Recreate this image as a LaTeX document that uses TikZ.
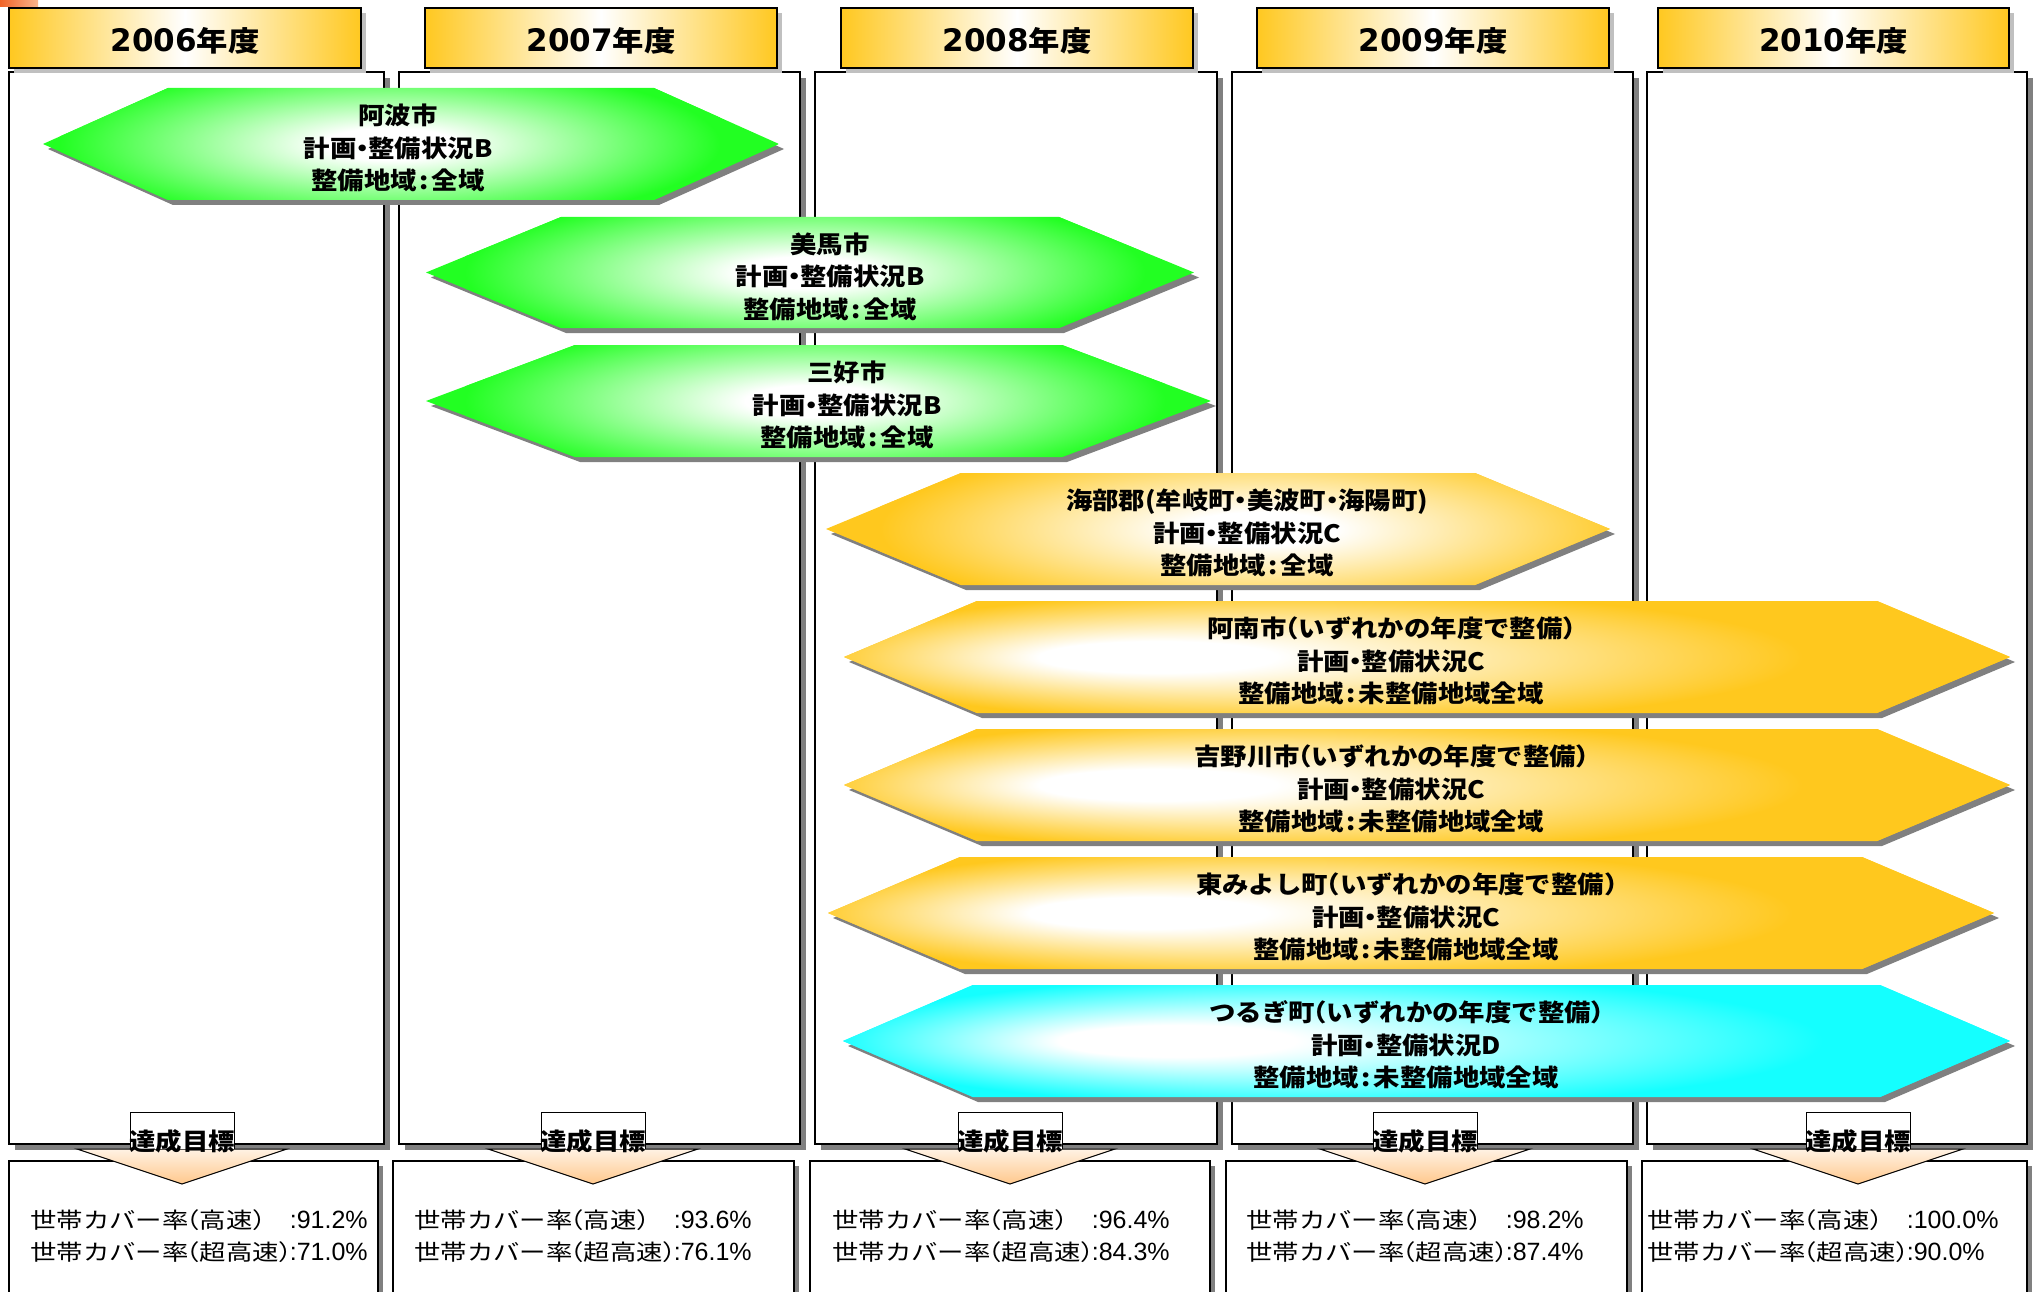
\documentclass[tikz,border=0pt]{standalone}
\usepackage{fontspec}
\setmainfont{Noto Sans CJK JP}
\newfontfamily\widefont{Noto Sans CJK JP}[FakeStretch=1.1]
\newfontfamily\hdrfont{Noto Sans CJK JP}[FakeStretch=1.12]
\newfontfamily\hdrdigits{DejaVu Sans}
\newfontfamily\ratefont{Noto Sans CJK JP}[FakeStretch=1.2]
\newfontfamily\numfont{Liberation Sans}
\definecolor{hexG}{RGB}{34,255,34}
\definecolor{hexY}{RGB}{255,200,30}
\definecolor{hexC}{RGB}{20,255,255}
\colorlet{hexYa}{hexY}
\colorlet{hexCa}{hexC}
\definecolor{hdrY}{RGB}{255,200,32}
\definecolor{shadowdark}{RGB}{128,128,128}
\definecolor{hdrshadow}{RGB}{192,192,192}
\definecolor{triTop}{RGB}{255,242,228}
\definecolor{triBot}{RGB}{255,200,140}
\definecolor{cornerA}{RGB}{240,100,40}
\definecolor{cornerB}{RGB}{250,180,140}
\pgfdeclareradialshading{hexG}{\pgfpointorigin}{color(0bp)=(white); color(5bp)=(white); color(25bp)=(hexG); color(50bp)=(hexG)}
\pgfdeclareradialshading{hexY}{\pgfpointorigin}{color(0bp)=(white); color(5bp)=(white); color(25bp)=(hexY); color(50bp)=(hexY)}
\pgfdeclareradialshading{hexYa}{\pgfpoint{-20bp}{0bp}}{color(0bp)=(white); color(1.8bp)=(white); color(7.5bp)=(hexY); color(50bp)=(hexY)}
\pgfdeclareradialshading{hexCa}{\pgfpoint{-20bp}{0bp}}{color(0bp)=(white); color(1.8bp)=(white); color(7.5bp)=(hexC); color(50bp)=(hexC)}
\newcommand\dt{\makebox[0.5em][c]{・}}
\newcommand\lp{\makebox[0.5em][r]{（}}
\newcommand\rp{\makebox[0.5em][l]{）}}
\newcommand\cl{\hspace{0.12em}:\hspace{0.12em}}
\newcommand\yrtext[1]{{\hdrdigits\bfseries\fontsize{31}{32}\selectfont #1}年度}
\newcommand\rate[2]{\begin{tabular}{@{}l@{}l@{}}%
  {\ratefont 世帯カバー率\lp 高速\rp}&{\numfont\fontsize{25}{32}\selectfont :#1\%}\\
  {\ratefont 世帯カバー率\lp 超高速\rp}&{\numfont\fontsize{25}{32}\selectfont :#2\%}\end{tabular}}
% #1 xl, #2 xr, #3 yt, #4 yb, #5 inset, #6 colour/shading, #7 glow x, #8 glow a, #9 glow b
\newcommand\hexa[9]{%
  \pgfmathsetmacro\hm{(#3+#4)/2}%
  \fill[fill=shadowdark] (#1+5,\hm+5) -- (#1+#5+5,#3+5) -- (#2-#5+5,#3+5) -- (#2+5,\hm+5) -- (#2-#5+5,#4+5) -- (#1+#5+5,#4+5) -- cycle;
  \begin{scope}
    \clip (#1,\hm) -- (#1+#5,#3) -- (#2-#5,#3) -- (#2,\hm) -- (#2-#5,#4) -- (#1+#5,#4) -- cycle;
    \fill[fill=#6] (#1,#3) rectangle (#2,#4);
    \shade[shading=#6] (#7-#8,\hm-#9) rectangle (#7+#8,\hm+#9);
  \end{scope}}
\begin{document}
\begin{tikzpicture}[x=1pt,y=-1pt,
  colbox/.style={draw=black,line width=1.5pt,fill=white},
  colshadow/.style={fill=shadowdark},
  hdrbox/.style={draw=black,line width=1.5pt,left color=hdrY,right color=hdrY,middle color=white},
  hdrtext/.style={font=\hdrfont\bfseries\fontsize{28}{30}\selectfont,inner sep=0pt},
  hextext/.style={font=\widefont\bfseries\fontsize{24}{32.4}\selectfont,align=center,inner sep=0pt},
  goaltext/.style={font=\widefont\bfseries\fontsize{24}{26}\selectfont,inner sep=0pt},
  ratetext/.style={font=\fontsize{22}{32}\selectfont,anchor=west,inner sep=0pt},
  tri/.style={draw=black,line width=1pt,top color=triTop,bottom color=triBot},
]
\useasboundingbox (0,0) rectangle (2035,1292);
\fill[white] (0,0) rectangle (2035,1292);
% corner fragment
\shade[left color=cornerA,right color=cornerB] (0,0) rectangle (38,7);
% columns
\foreach \xl/\xr in {9/384, 399/800, 815/1217, 1232/1633, 1647/2027} {
  \fill[colshadow] (\xl+6,78) rectangle (\xr+6,1150);
  \draw[colbox] (\xl,72) rectangle (\xr,1144);
}
% target boxes
\foreach \xl/\xr in {9/378, 393/794, 810/1210, 1226/1627, 1642/2027} {
  \fill[colshadow] (\xl+5,1166) rectangle (\xr+5,1310);
  \draw[colbox] (\xl,1161) rectangle (\xr,1310);
}
% headers
\foreach \xl/\xr/\yr [count=\i] in {9/361/2006, 425/777/2007, 841/1193/2008, 1257/1609/2009, 1658/2009/2010} {
  \fill[hdrshadow] (\xl+5,13) rectangle (\xr+5,73);
  \draw[hdrbox] (\xl,8) rectangle (\xr,68);
  \node[hdrtext] (hdr\i) at ({(\xl+\xr)/2},41) {\yrtext{\yr}};
}
% hexagons
\hexa{43}{779}{88}{200}{125}{hexG}{390}{330}{80}
\hexa{426}{1194}{217}{328}{135}{hexG}{805}{340}{80}
\hexa{426}{1211}{345}{457}{149}{hexG}{815}{350}{80}
\hexa{826}{1610}{473}{585}{135}{hexY}{1260}{380}{85}
\hexa{844}{2010}{601}{713}{133}{hexYa}{2430}{1650}{220}
\hexa{844}{2010}{729}{841}{133}{hexYa}{2430}{1650}{220}
\hexa{828}{1994}{857}{969}{132}{hexYa}{2420}{1650}{220}
\hexa{843}{2010}{985}{1097}{130}{hexCa}{2450}{1650}{220}
\node[hextext] (awa) at (398,148) {阿波市\\計画\dt 整備状況B\\整備地域\cl 全域};
\node[hextext] (mima) at (830,276.5) {美馬市\\計画\dt 整備状況B\\整備地域\cl 全域};
\node[hextext] (miyoshi) at (847,405) {三好市\\計画\dt 整備状況B\\整備地域\cl 全域};
\node[hextext] (kaifu) at (1247,533) {海部郡(牟岐町\dt 美波町\dt 海陽町)\\計画\dt 整備状況C\\整備地域\cl 全域};
\node[hextext] (anan) at (1391,661) {阿南市\lp いずれかの年度で整備\rp\\計画\dt 整備状況C\\整備地域\cl 未整備地域全域};
\node[hextext] (yoshino) at (1391,789) {吉野川市\lp いずれかの年度で整備\rp\\計画\dt 整備状況C\\整備地域\cl 未整備地域全域};
\node[hextext] (higashi) at (1406,917) {東みよし町\lp いずれかの年度で整備\rp\\計画\dt 整備状況C\\整備地域\cl 未整備地域全域};
\node[hextext] (tsurugi) at (1406,1045) {つるぎ町\lp いずれかの年度で整備\rp\\計画\dt 整備状況D\\整備地域\cl 未整備地域全域};
% goal arrows
\foreach \cx [count=\i] in {182,593,1010,1425,1858} {
  \draw[tri] (\cx-105,1149) -- (\cx+105,1149) -- (\cx,1184) -- cycle;
  \fill[white] (\cx-52,1112) rectangle (\cx+52,1149);
  \draw[line width=1pt] (\cx-52,1149) -- (\cx-52,1112) -- (\cx+52,1112) -- (\cx+52,1149);
  \node[goaltext] (goal\i) at (\cx,1141) {達成目標};
}
% rates
\node[ratetext] (rate1) at (30,1238) {\rate{91.2}{71.0}};
\node[ratetext] (rate2) at (414,1238) {\rate{93.6}{76.1}};
\node[ratetext] (rate3) at (832,1238) {\rate{96.4}{84.3}};
\node[ratetext] (rate4) at (1246,1238) {\rate{98.2}{87.4}};
\node[ratetext] (rate5) at (1647,1238) {\rate{100.0}{90.0}};
\end{tikzpicture}
\end{document}
